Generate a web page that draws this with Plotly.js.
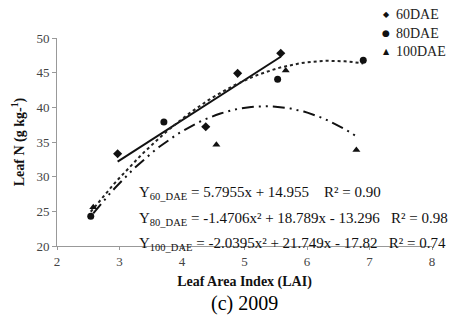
<!DOCTYPE html>
<html><head><meta charset="utf-8">
<script src="https://cdn.plot.ly/plotly-3.0.1.min.js"></script>
<style>html,body{margin:0;padding:0;background:#fff}#c{width:452px;height:316px}
.xtick text,.ytick text{font-family:"Liberation Serif",serif !important;}</style>
</head><body><div id="c"></div>
<script>
// Data
var lai60 = [2.97, 4.38, 4.89, 5.58];
var n60   = [33.3, 37.2, 44.9, 47.8];
var lai80 = [2.54, 3.71, 5.53, 6.90];
var n80   = [24.3, 37.9, 44.05, 46.8];
var lai100 = [2.58, 4.55, 5.66, 6.79];
var n100   = [25.6, 34.6, 45.3, 33.85];
// Trendline coefficients shown on the chart [a2, a1, a0]
var coef60 = [0, 5.7955, 14.955];
var coef80 = [-1.4706, 18.789, -13.296];
var coef100 = [-2.0395, 21.749, -17.82];
var seriesNames = ["60DAE", "80DAE", "100DAE"];
var legendGlyphs = ["\u25C6", "\u25CF", "\u25B2"];
var eqTexts = [
  "Y<sub>60_DAE</sub> = 5.7955x + 14.955    R² = 0.90",
  "Y<sub>80_DAE</sub> = -1.4706x² + 18.789x - 13.296   R² = 0.98",
  "Y<sub>100_DAE</sub> = -2.0395x² + 21.749x - 17.82   R² = 0.74"
];
var xTicks = [2,3,4,5,6,7,8];
var yTicks = [20,25,30,35,40,45,50];

function trend(c, xs) {
  var lo = Math.min.apply(null, xs), hi = Math.max.apply(null, xs);
  var X = [], Y = [];
  for (var i = 0; i <= 60; i++) {
    var x = lo + (hi - lo) * i / 60;
    X.push(x); Y.push(c[0]*x*x + c[1]*x + c[2]);
  }
  return {x: X, y: Y};
}
var t60 = trend(coef60, lai60), t80 = trend(coef80, lai80), t100 = trend(coef100, lai100);
var F = "Liberation Serif, serif";
var data = [
  {x: t60.x, y: t60.y, mode: "lines", line: {color: "#111", width: 2}, showlegend: false, hoverinfo: "skip"},
  {x: t80.x, y: t80.y, mode: "lines", line: {color: "#222", width: 2, dash: "dot"}, showlegend: false, hoverinfo: "skip"},
  {x: t100.x, y: t100.y, mode: "lines", line: {color: "#111", width: 2, dash: "12px,5px,2px,5px,2px,5px"}, showlegend: false, hoverinfo: "skip"},
  {x: lai60, y: n60, name: seriesNames[0], mode: "markers", marker: {symbol: "diamond", size: 7, color: "#111"}, showlegend: false},
  {x: lai80, y: n80, name: seriesNames[1], mode: "markers", marker: {symbol: "circle", size: 7, color: "#111"}, showlegend: false},
  {x: lai100, y: n100, name: seriesNames[2], mode: "markers", marker: {symbol: "triangle-up", size: 7, color: "#111"}, showlegend: false}
];
var ann = [];
function px(x) { return (x - 57) / 375; }
function py(y) { return (246 - y) / 208; }
var eqY = [193, 219, 244];
for (var i = 0; i < 3; i++) {
  ann.push({xref: "paper", yref: "paper", x: px(137), y: py(eqY[i]),
    xanchor: "left", yanchor: "middle", showarrow: false, text: eqTexts[i],
    font: {family: F, size: 15, color: "#111"}});
}
var legY = [15, 33, 51];
for (var j = 0; j < 3; j++) {
  ann.push({xref: "paper", yref: "paper", x: px(386), y: py(legY[j]), xanchor: "center", yanchor: "middle",
    showarrow: false, text: legendGlyphs[j], font: {family: "DejaVu Sans", size: j === 1 ? 9 : 8, color: "#111"}});
  ann.push({xref: "paper", yref: "paper", x: px(394), y: py(legY[j]), xanchor: "left", yanchor: "middle",
    showarrow: false, text: seriesNames[j], font: {family: F, size: 14, color: "#222"}});
}
ann.push({xref: "paper", yref: "paper", x: px(244), y: py(303), xanchor: "center", yanchor: "middle",
  showarrow: false, text: "(c) 2009", font: {family: F, size: 20, color: "#000"}});
var layout = {
  width: 452, height: 316,
  margin: {l: 57, r: 20, t: 38, b: 70},
  paper_bgcolor: "#fff", plot_bgcolor: "#fff",
  font: {family: F, size: 13, color: "#444"},
  showlegend: false,
  xaxis: {range: [2, 8], tickvals: xTicks, ticktext: xTicks.map(String), showgrid: false, zeroline: false, showline: true,
    linecolor: "#999", linewidth: 1, ticks: "outside", ticklen: 3, tickcolor: "#999",
    tickfont: {family: F, size: 13, color: "#444"},
    title: {text: "<b>Leaf Area Index (LAI)</b>", font: {family: F, size: 14, color: "#111"}, standoff: 8}},
  yaxis: {range: [20, 50], tickvals: yTicks, ticktext: yTicks.map(String), showgrid: false, zeroline: false, showline: true,
    linecolor: "#999", linewidth: 1, ticks: "outside", ticklen: 4, tickcolor: "#999",
    tickfont: {family: F, size: 13, color: "#444"},
    title: {text: "<b>Leaf N (g kg-<sup>1</sup>)</b>", font: {family: F, size: 14, color: "#111"}, standoff: 8}},
  annotations: ann
};
Plotly.newPlot("c", data, layout, {displayModeBar: false, staticPlot: true});
</script></body></html>
